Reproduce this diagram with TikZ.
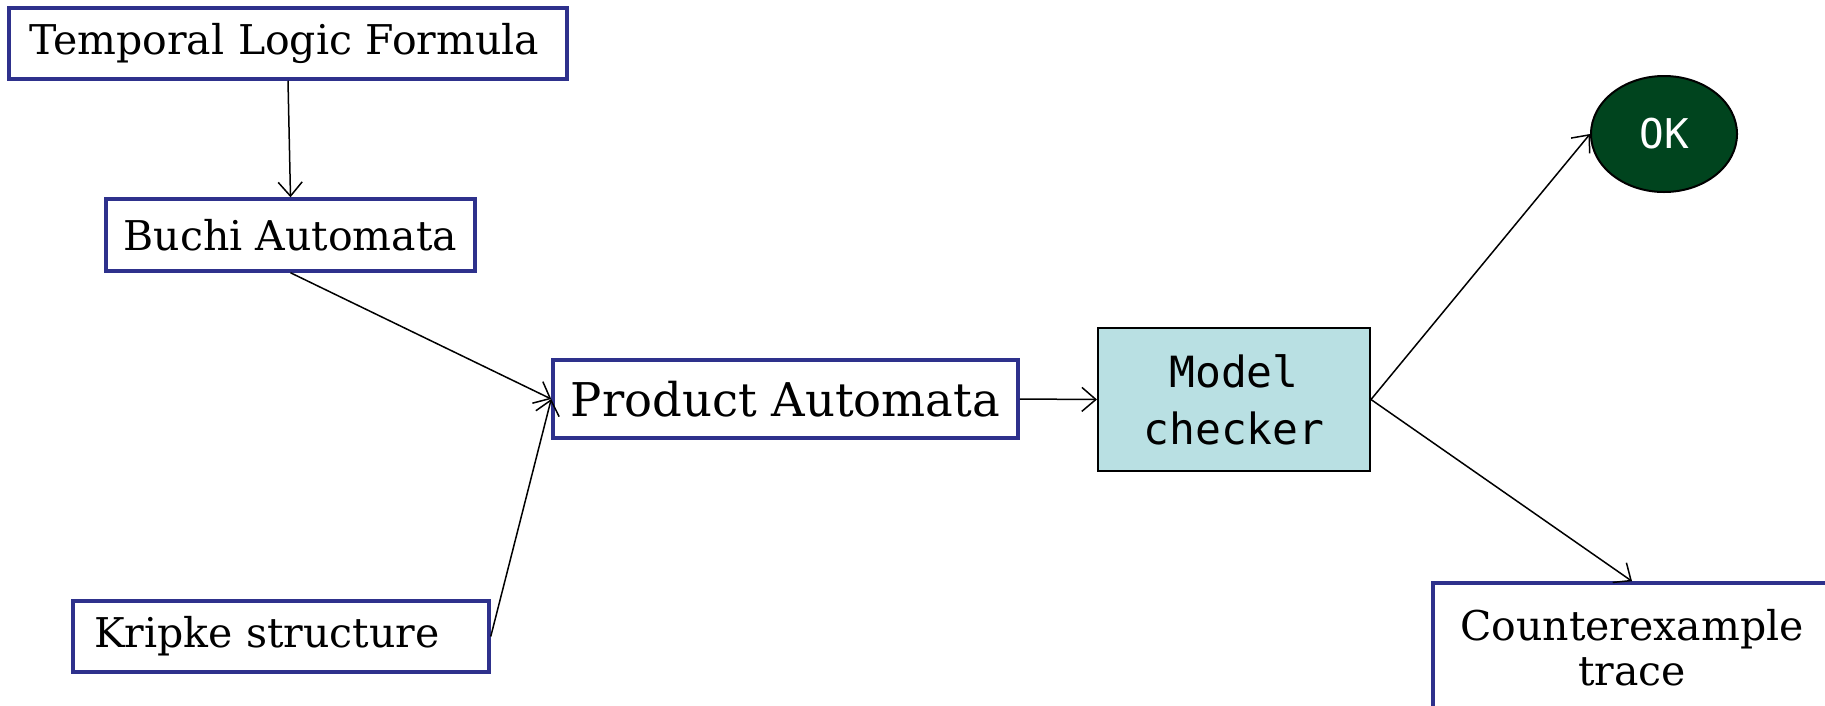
\documentclass[tikz,border=0pt]{standalone}
\usepackage{fontspec}
\setmainfont{DejaVu Serif}
\setmonofont{DejaVu Sans Mono}
\usetikzlibrary{arrows.meta,shapes.geometric}
\definecolor{boxblue}{RGB}{46,49,140}
\definecolor{mcfill}{RGB}{185,224,227}
\definecolor{okgreen}{RGB}{0,68,30}
\begin{document}
\begin{tikzpicture}[x=1pt,y=-1pt,
  bluebox/.style={draw=boxblue, line width=3.5pt, fill=white, rectangle, inner sep=0pt,
    font=\fontsize{41}{46}\selectfont},
  conn/.style={draw, line width=1.5pt, -{Straight Barb[length=14pt,width=24pt,line width=1.5pt]}}]
\path[use as bounding box] (0,0) rectangle (1825,705);
\clip (0,0) rectangle (1825,705);
\fill[white] (0,0) rectangle (1825,705);

\node[bluebox, minimum width=558pt, minimum height=71pt, text width=518pt, inner xsep=20pt, align=left] (tlf) at (288,43.5) {Temporal Logic Formula};
\node[bluebox, minimum width=369pt, minimum height=72pt] (buchi) at (290.5,235) {Buchi Automata};
\node[bluebox, minimum width=416pt, minimum height=71pt, text width=374pt, inner xsep=21pt, align=left] (kripke) at (281,636.5) {Kripke structure};
\node[bluebox, minimum width=465pt, minimum height=78pt, font=\fontsize{46.5}{52}\selectfont] (prod) at (785.5,399) {Product Automata};
\node[draw=black, line width=2pt, fill=mcfill, minimum width=272pt, minimum height=143pt, inner sep=0pt, align=center,
  font=\ttfamily\fontsize{43}{57}\selectfont] (mc) at (1234,399.5) {Model\\checker};
\node[ellipse, draw=black, line width=2pt, fill=okgreen, text=white, minimum width=146pt, minimum height=116pt, inner sep=0pt,
  font=\ttfamily\fontsize{41}{46}\selectfont] (ok) at (1664,134) {OK};
\node[bluebox, minimum width=398pt, minimum height=130pt, align=center, font=\fontsize{41}{45}\selectfont] (ce) at (1632,648) {Counterexample\\trace};

\draw[conn] (tlf.south) -- (buchi.north);
\draw[conn] (buchi.south) -- (prod.west);
\draw[conn] (kripke.east) -- (prod.west);
\draw[conn] (prod.east) -- (mc.west);
\draw[conn] (mc.east) -- (ok.west);
\draw[conn] (mc.east) -- (ce.north);
\end{tikzpicture}
\end{document}
